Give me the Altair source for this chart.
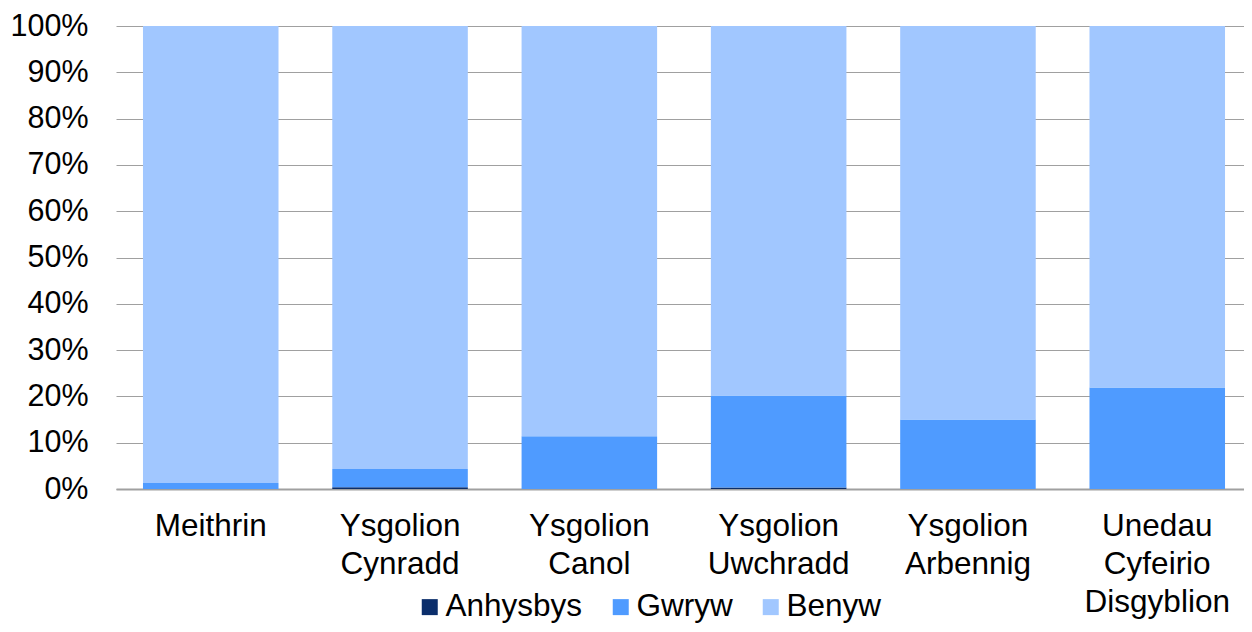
import altair as alt
import pandas as pd

categories = ["Meithrin", "Ysgolion Cynradd", "Ysgolion Canol", "Ysgolion Uwchradd",
              "Ysgolion Arbennig", "Unedau Cyfeirio Disgyblion"]
series = ["Anhysbys", "Gwryw", "Benyw"]
colors = ["#0b2e6b", "#4f9bff", "#a1c7ff"]
anhysbys = [0.0, 0.4, 0.0, 0.3, 0.0, 0.0]
gwryw = [1.3, 3.9, 11.4, 19.9, 15.0, 21.9]
benyw = [round(100 - a - g, 2) for a, g in zip(anhysbys, gwryw)]
y_ticks = [0, 10, 20, 30, 40, 50, 60, 70, 80, 90, 100]

rows = []
for i, c in enumerate(categories):
    for j, (s, vals) in enumerate(zip(series, [anhysbys, gwryw, benyw])):
        rows.append({"cat": c, "series": s, "value": vals[i], "ord": j})
df = pd.DataFrame(rows)

FONT = "Liberation Sans"

chart = alt.Chart(df).mark_bar().encode(
    x=alt.X("cat:N", sort=categories, title=None,
            scale=alt.Scale(paddingInner=0.284, paddingOuter=0.1425, range=[0, 1136]),
            axis=alt.Axis(labelAngle=0, labelExpr="split(datum.label, ' ')",
                          labelFontSize=31.5, labelFont=FONT, labelColor="#000000",
                          labelLineHeight=38, labelBaseline="top", labelPadding=21,
                          ticks=False, tickSize=0, domainColor="#a0a0a0", domainWidth=2,
                          labelLimit=400)),
    y=alt.Y("value:Q", stack="zero", title=None,
            scale=alt.Scale(domain=[0, 100], nice=False),
            axis=alt.Axis(values=y_ticks, labelExpr="datum.value + '%'",
                          labelFontSize=30.5, labelFont=FONT, labelColor="#000000",
                          labelPadding=28, ticks=False, tickSize=0, domain=False,
                          grid=True, gridColor="#a0a0a0", gridWidth=1)),
    color=alt.Color("series:N", scale=alt.Scale(domain=series, range=colors),
                    legend=alt.Legend(title=None, orient="none", direction="horizontal",
                                      legendX=298, legendY=565,
                                      symbolType="square", symbolSize=256,
                                      symbolStrokeWidth=0, labelFontSize=31.5, labelFont=FONT,
                                      labelColor="#000000", columnPadding=22,
                                      labelOffset=0)),
    order=alt.Order("ord:Q"),
).properties(
    width=1128, height=463,
    autosize=alt.AutoSizeParams(type="none"),
    padding={"left": 108, "top": 18, "right": 0, "bottom": 135},
).configure_view(stroke=None)

chart.save("out.html", embed_options={"renderer": "svg", "actions": False})
